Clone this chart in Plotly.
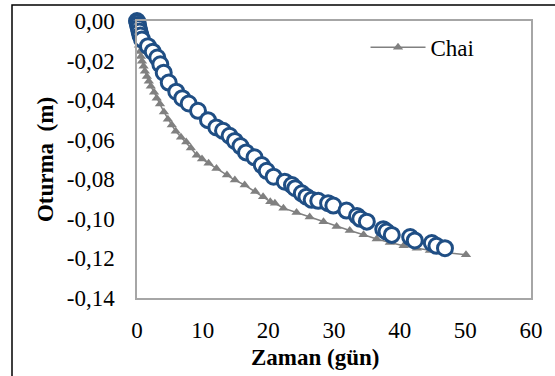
import plotly.graph_objects as go

# Chai (gray triangles)
chai_x = [0, 0.08, 0.15, 0.3, 0.46, 0.6, 0.76, 1.0, 1.2, 1.5, 1.8, 2.1, 2.6, 3.0, 3.5, 4.1,
          4.7, 5.3, 5.9, 6.7, 7.5, 8.2, 9.1, 9.9, 10.9, 12.1, 13.7, 14.9, 16.4, 18.0, 19.2,
          20.3, 21.0, 22.3, 24.3, 26.3, 28.4, 30.4, 32.4, 34.5, 36.5, 38.5, 40.6, 42.6,
          44.6, 46.9, 50.1]
chai_y = [0, -0.0048, -0.0088, -0.0123, -0.0154, -0.0179, -0.0204, -0.0229, -0.0254, -0.028,
          -0.0305, -0.033, -0.036, -0.039, -0.042, -0.046, -0.0496, -0.0526, -0.0557, -0.0587,
          -0.0612, -0.0642, -0.0678, -0.0698, -0.0719, -0.0745, -0.0778, -0.0804, -0.0829,
          -0.0862, -0.0888, -0.0913, -0.0921, -0.0946, -0.0968, -0.0991, -0.1014, -0.1039,
          -0.1059, -0.108, -0.1102, -0.1119, -0.1136, -0.1148, -0.116, -0.117, -0.1181]

# Measured (blue open circles)
meas_x = [0.0, 0.08, 0.15, 0.26, 0.38, 0.53, 0.76, 1.67, 2.4, 3.09, 3.55, 4.07, 4.83, 5.98, 6.9,
          7.87, 9.29, 10.81, 12.08, 13.1, 14.1, 14.9, 15.76, 16.6, 17.9, 19.0, 19.75, 20.8,
          22.5, 23.6, 24.1, 25.1, 25.8, 26.6, 27.6, 29.1, 29.9, 31.9, 33.5, 34.0, 35.0, 37.5,
          38.0, 38.8, 41.6, 42.3, 44.9, 45.6, 46.9]
meas_y = [0.0, -0.0008, -0.002, -0.0035, -0.0053, -0.0073, -0.0093, -0.0127, -0.0155, -0.0185,
          -0.0219, -0.0261, -0.0311, -0.0357, -0.039, -0.0417, -0.0454, -0.0501, -0.0538,
          -0.0555, -0.058, -0.0606, -0.0632, -0.0664, -0.0689, -0.0728, -0.0757, -0.0787,
          -0.0812, -0.0829, -0.0845, -0.0871, -0.0888, -0.0904, -0.0909, -0.0921, -0.0933,
          -0.0958, -0.0985, -0.1, -0.1014, -0.1052, -0.1064, -0.1081, -0.1092, -0.1109,
          -0.1122, -0.1136, -0.1148]

x_tick_vals = [0, 10, 20, 30, 40, 50, 60]
y_tick_vals = [0, -0.02, -0.04, -0.06, -0.08, -0.10, -0.12, -0.14]
y_tick_labels = ["0,00", "-0,02", "-0,04", "-0,06", "-0,08", "-0,10", "-0,12", "-0,14"]
x_title = "Zaman (gün)"
y_title = "Oturma  (m)"

FONT = "Liberation Serif"

fig = go.Figure()
fig.add_trace(go.Scatter(
    x=chai_x, y=chai_y, name="Chai", mode="lines+markers",
    line=dict(color="#808080", width=1.5),
    marker=dict(symbol="triangle-up", size=9, color="#808080"),
    cliponaxis=False,
))
fig.add_trace(go.Scatter(
    x=meas_x, y=meas_y, name="Ölçülen", mode="markers", showlegend=False,
    marker=dict(symbol="circle", size=15, color="white",
                line=dict(color="#1F4E84", width=3)),
    cliponaxis=False,
))

fig.update_layout(
    width=555, height=376,
    margin=dict(l=137, r=24, t=21, b=78),
    paper_bgcolor="white", plot_bgcolor="white",
    font=dict(family=FONT, size=23, color="black"),
    showlegend=True,
    legend=dict(x=0.58, y=0.905, xanchor="left", yanchor="middle", itemwidth=55,
                bgcolor="rgba(0,0,0,0)", font=dict(size=23, family=FONT)),
    xaxis=dict(range=[0, 60], tickvals=x_tick_vals, showgrid=False, zeroline=False,
               showline=True, linecolor="#A6A6A6", linewidth=1.5, mirror=True,
               ticks="", ticklabelstandoff=11, automargin=False,
               tickfont=dict(size=23, family=FONT)),
    yaxis=dict(range=[-0.14, 0], tickvals=y_tick_vals, ticktext=y_tick_labels,
               showgrid=False, zeroline=False,
               showline=True, linecolor="#A6A6A6", linewidth=1.5, mirror=True,
               ticks="", ticklabelstandoff=16, automargin=False,
               tickfont=dict(size=23, family=FONT),
               title=dict(text="<b>" + y_title + "</b>", font=dict(size=23, family=FONT),
                          standoff=7)),
    annotations=[dict(text="<b>" + x_title + "</b>", xref="paper", yref="paper",
                      x=(315 - 137) / 394, y=(298 - 357) / 277,
                      xanchor="center", yanchor="middle", showarrow=False,
                      font=dict(size=23, family=FONT))],
    shapes=[dict(type="rect", xref="paper", yref="paper",
                 x0=(12 - 137) / 394, x1=(557 - 137) / 394,
                 y0=(298 - 380) / 277, y1=(298 - 5) / 277,
                 line=dict(color="black", width=1.5), fillcolor="rgba(0,0,0,0)",
                 layer="below")],
)

fig.write_html("out.html", config={"displayModeBar": False},
               post_script="document.body.style.margin='0';document.body.style.padding='0';")
